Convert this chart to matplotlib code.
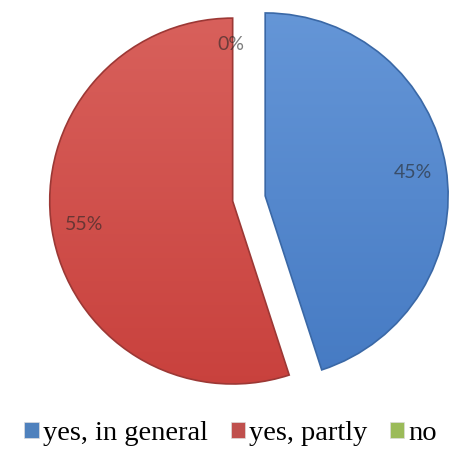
import numpy as np
import matplotlib
matplotlib.use("Agg")
import matplotlib.pyplot as plt
from matplotlib.colors import LinearSegmentedColormap
from matplotlib.patches import Patch

# answer shares (percent)
labels = ["yes, in general", "yes, partly", "no"]
values = [45, 55, 0]

# top / bottom shade of each slice
topColors = ["#6697d8", "#d9625d"]
bottomColors = ["#4479c2", "#c8403c"]
edgeColors = ["#3a68a6", "#9c3835", "#71893f"]
legendColors = ["#4f81bd", "#c0504d", "#9bbb59"]

fig = plt.figure(figsize=(4.71, 4.67), dpi=100)
ax = fig.add_axes([0.043, 0.085, 0.971, 0.98])

wedges, texts, autotexts = ax.pie(
  values, startangle=90, counterclock=False, explode=[0.09, 0.09, 0.09],
  autopct="%1.0f%%", pctdistance=0.82, radius=1.0, frame=False,
  wedgeprops=dict(linewidth=1.2), textprops=dict(fontsize=14, family="Lato"))

# vertical gradient inside every visible slice
for i, w in enumerate(wedges):
  w.set_edgecolor(edgeColors[i])
  w.set_facecolor("none")
  if values[i] == 0:
    w.set_linewidth(0)
    continue
  cmap = LinearSegmentedColormap.from_list("g%d" % i, [bottomColors[i], topColors[i]])
  grad = np.linspace(0, 1, 256).reshape(-1, 1)
  img = ax.imshow(grad, cmap=cmap, origin="lower", aspect="auto",
                  extent=[-1.2, 1.2, -1.1, 1.1], zorder=0.5)
  img.set_clip_path(w)
  w.set_zorder(1)

for i, t in enumerate(autotexts):
  t.set_color("#262626")
  t.set_alpha(0.6)
  t.set_zorder(3)
  if values[i] == 0:
    # empty slice: label sits just left of the gap
    t.set_position((-0.1, 0.84))

ax.set_xlim(-1.25, 1.25)
ax.set_ylim(-1.25, 1.25)
ax.set_aspect("equal")
ax.axis("off")

handles = [Patch(facecolor=legendColors[i], edgecolor="#dddddd", linewidth=0.5) for i in range(3)]
fig.legend(handles, labels, loc="center", bbox_to_anchor=(0.49, 0.072), ncol=3,
           frameon=False, handlelength=0.5, handleheight=0.5, handletextpad=0.15,
           columnspacing=0.8, prop=dict(family="Liberation Serif", size=20.5))

fig.savefig("out.png", dpi=100)
